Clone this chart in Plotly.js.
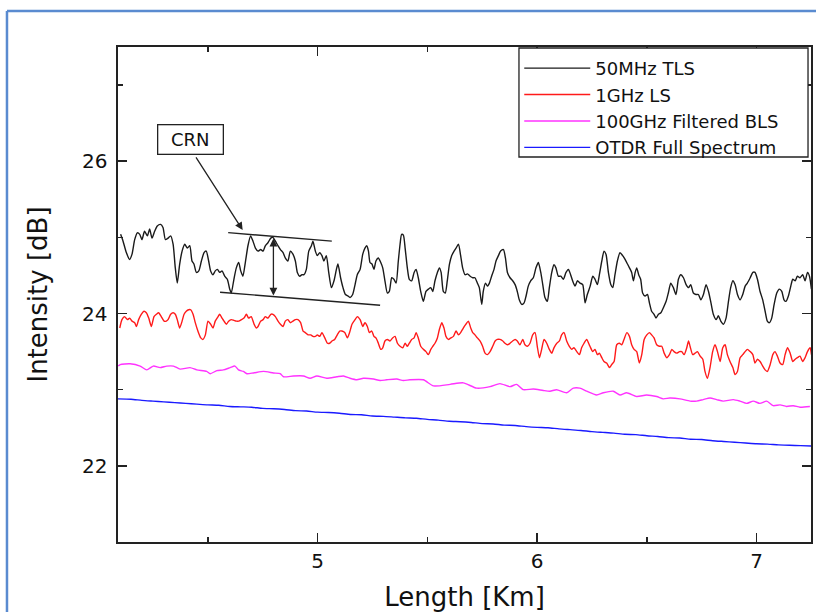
<!DOCTYPE html>
<html>
<head>
<meta charset="utf-8">
<script src="https://cdn.plot.ly/plotly-3.0.1.min.js"></script>
<style>html,body{margin:0;padding:0;background:#fff;}#chart{width:816px;height:612px;}</style>
</head>
<body>
<div id="chart"></div>
<script>
// ---- data ----
const seriesNames = ["50MHz TLS", "1GHz LS", "100GHz Filtered BLS", "OTDR Full Spectrum"];

const blackX = [
4.103,4.114,4.129,4.144,4.155,4.167,4.179,4.190,4.200,4.212,
4.225,4.235,4.246,4.258,4.270,4.285,4.296,4.307,4.319,4.331,
4.342,4.352,4.361,4.372,4.383,4.395,4.407,4.418,4.428,4.437,
4.448,4.459,4.471,4.483,4.493,4.504,4.513,4.524,4.534,4.544,
4.554,4.565,4.577,4.589,4.600,4.607,4.619,4.630,4.641,4.650,
4.660,4.671,4.683,4.695,4.706,4.717,4.729,4.741,4.752,4.762,
4.774,4.787,4.797,4.808,4.820,4.831,4.843,4.853,4.865,4.876,
4.888,4.899,4.908,4.919,4.929,4.938,4.949,4.960,4.972,4.979,
4.990,4.999,5.010,5.020,5.029,5.040,5.051,5.063,5.075,5.086,
5.093,5.105,5.116,5.127,5.139,5.148,5.160,5.171,5.181,5.194,
5.206,5.216,5.224,5.232,5.239,5.248,5.257,5.266,5.277,5.288,
5.297,5.307,5.318,5.327,5.338,5.348,5.358,5.368,5.376,5.383,
5.391,5.399,5.409,5.418,5.429,5.440,5.449,5.459,5.470,5.482,
5.494,5.505,5.516,5.525,5.535,5.546,5.555,5.563,5.573,5.582,
5.591,5.601,5.611,5.622,5.631,5.642,5.652,5.661,5.672,5.683,
5.695,5.707,5.717,5.728,5.737,5.748,5.755,5.765,5.774,5.783,
5.793,5.804,5.813,5.824,5.834,5.847,5.856,5.865,5.877,5.889,
5.900,5.910,5.919,5.930,5.941,5.950,5.960,5.971,5.983,5.995,
6.006,6.017,6.026,6.036,6.047,6.056,6.067,6.077,6.086,6.097,
6.108,6.120,6.132,6.143,6.153,6.162,6.173,6.184,6.196,6.208,
6.219,6.229,6.242,6.254,6.264,6.275,6.284,6.295,6.305,6.314,
6.325,6.336,6.345,6.355,6.366,6.378,6.390,6.401,6.412,6.421,
6.431,6.439,6.447,6.454,6.463,6.472,6.481,6.492,6.503,6.512,
6.522,6.533,6.542,6.553,6.564,6.576,6.588,6.598,6.609,6.621,
6.633,6.644,6.655,6.667,6.679,6.690,6.700,6.712,6.724,6.735,
6.746,6.758,6.770,6.781,6.791,6.803,6.816,6.826,6.837,6.849,
6.861,6.872,6.882,6.892,6.902,6.913,6.925,6.937,6.948,6.958,
6.971,6.983,6.993,7.004,7.016,7.028,7.039,7.049,7.059,7.069,
7.080,7.092,7.104,7.115,7.125,7.134,7.145,7.156,7.165,7.176,
7.186,7.198,7.210,7.221,7.232,7.241,7.250];
const blackY = [
25.04,24.95,24.80,24.71,24.78,24.97,25.06,25.04,24.97,25.08,
25.02,25.11,24.99,25.08,25.15,25.17,25.13,24.97,24.99,25.02,
24.91,24.60,24.40,24.65,24.82,24.91,24.86,24.89,24.69,24.65,
24.54,24.56,24.69,24.80,24.82,24.69,24.56,24.51,24.56,24.58,
24.54,24.56,24.49,24.45,24.32,24.27,24.45,24.60,24.67,24.56,
24.49,24.67,24.89,25.02,24.95,24.86,24.82,24.84,24.82,24.89,
24.93,24.99,25.00,24.95,24.89,24.84,24.80,24.73,24.69,24.82,
24.78,24.69,24.54,24.49,24.51,24.51,24.58,24.82,24.89,24.95,
24.82,24.76,24.80,24.76,24.69,24.76,24.54,24.34,24.43,24.58,
24.65,24.47,24.34,24.25,24.23,24.21,24.25,24.38,24.51,24.58,
24.78,24.86,24.89,24.82,24.67,24.65,24.58,24.69,24.73,24.67,
24.60,24.43,24.27,24.29,24.47,24.45,24.40,24.69,24.91,25.04,
25.03,24.86,24.60,24.45,24.43,24.54,24.58,24.47,24.29,24.16,
24.29,24.32,24.34,24.29,24.43,24.54,24.60,24.54,24.29,24.27,
24.43,24.65,24.76,24.82,24.86,24.91,24.76,24.60,24.51,24.52,
24.49,24.47,24.47,24.40,24.34,24.12,24.29,24.40,24.36,24.40,
24.49,24.58,24.69,24.76,24.82,24.84,24.73,24.54,24.47,24.43,
24.38,24.29,24.18,24.12,24.14,24.23,24.36,24.43,24.47,24.60,
24.67,24.54,24.38,24.21,24.16,24.34,24.54,24.64,24.60,24.49,
24.49,24.45,24.54,24.58,24.51,24.43,24.36,24.43,24.40,24.38,
24.14,24.25,24.36,24.49,24.45,24.38,24.51,24.69,24.82,24.78,
24.54,24.38,24.34,24.51,24.69,24.80,24.76,24.71,24.65,24.60,
24.54,24.43,24.54,24.60,24.51,24.45,24.27,24.23,24.25,24.14,
24.03,23.99,23.94,23.99,24.01,24.08,24.16,24.27,24.40,24.34,
24.25,24.45,24.51,24.47,24.38,24.34,24.38,24.27,24.25,24.25,
24.18,24.25,24.38,24.29,24.16,23.99,23.92,23.97,23.90,23.86,
23.94,24.16,24.34,24.43,24.38,24.25,24.18,24.25,24.36,24.40,
24.47,24.54,24.54,24.45,24.29,24.18,24.03,23.90,23.88,23.94,
24.12,24.27,24.32,24.29,24.18,24.16,24.23,24.36,24.45,24.43,
24.49,24.47,24.51,24.43,24.54,24.49,24.32];

const redX = [
4.099,4.109,4.121,4.134,4.144,4.155,4.167,4.175,4.185,4.197,
4.209,4.220,4.231,4.243,4.255,4.266,4.276,4.288,4.301,4.311,
4.319,4.331,4.342,4.352,4.361,4.372,4.383,4.392,4.402,4.413,
4.422,4.433,4.443,4.455,4.468,4.478,4.489,4.501,4.513,4.524,
4.534,4.547,4.554,4.565,4.574,4.585,4.595,4.607,4.619,4.630,
4.641,4.653,4.665,4.676,4.686,4.698,4.711,4.721,4.729,4.741,
4.752,4.762,4.774,4.787,4.797,4.808,4.820,4.831,4.843,4.853,
4.865,4.876,4.888,4.899,4.911,4.923,4.934,4.944,4.957,4.969,
4.979,4.990,4.999,5.010,5.020,5.033,5.045,5.055,5.066,5.078,
5.090,5.101,5.111,5.124,5.136,5.146,5.157,5.171,5.181,5.194,
5.206,5.216,5.227,5.236,5.247,5.257,5.266,5.277,5.288,5.297,
5.307,5.318,5.330,5.342,5.353,5.364,5.376,5.388,5.399,5.409,
5.418,5.429,5.440,5.449,5.459,5.470,5.482,5.494,5.505,5.516,
5.525,5.535,5.546,5.555,5.566,5.576,5.585,5.596,5.607,5.619,
5.631,5.642,5.652,5.664,5.676,5.687,5.698,5.707,5.717,5.728,
5.740,5.752,5.763,5.774,5.786,5.798,5.809,5.819,5.831,5.844,
5.854,5.865,5.877,5.889,5.900,5.910,5.922,5.935,5.945,5.956,
5.968,5.980,5.991,6.001,6.011,6.021,6.032,6.044,6.056,6.067,
6.077,6.090,6.102,6.112,6.123,6.135,6.147,6.158,6.168,6.181,
6.193,6.203,6.214,6.226,6.241,6.254,6.264,6.275,6.284,6.295,
6.305,6.317,6.330,6.340,6.351,6.363,6.375,6.386,6.396,6.409,
6.421,6.431,6.442,6.454,6.466,6.477,6.488,6.500,6.512,6.522,
6.533,6.545,6.557,6.568,6.579,6.591,6.603,6.614,6.624,6.636,
6.649,6.659,6.670,6.682,6.690,6.697,6.709,6.720,6.731,6.743,
6.755,6.765,6.776,6.788,6.800,6.811,6.822,6.834,6.846,6.857,
6.867,6.879,6.892,6.902,6.913,6.925,6.937,6.948,6.958,6.971,
6.983,6.993,7.004,7.016,7.028,7.039,7.049,7.062,7.074,7.084,
7.095,7.107,7.119,7.130,7.141,7.153,7.165,7.176,7.186,7.198,
7.210,7.221,7.232,7.244,7.250];
const redY = [
23.81,23.92,23.96,23.92,23.94,23.90,23.88,23.83,23.92,23.99,
24.03,24.01,23.94,23.83,23.96,23.99,24.01,23.96,23.90,23.90,
23.92,23.99,24.01,23.99,23.92,23.81,23.90,23.99,24.03,24.05,
24.05,23.99,23.88,23.77,23.68,23.66,23.72,23.90,23.86,23.81,
23.90,23.96,23.99,23.94,23.90,23.86,23.90,23.92,23.91,23.90,
23.90,23.92,23.94,23.99,23.94,23.96,23.86,23.81,23.83,23.90,
23.92,23.96,23.94,23.99,23.99,23.96,23.90,23.86,23.83,23.90,
23.92,23.88,23.90,23.92,23.92,23.88,23.77,23.75,23.72,23.72,
23.70,23.70,23.72,23.70,23.75,23.68,23.61,23.61,23.64,23.66,
23.72,23.77,23.77,23.75,23.68,23.75,23.86,23.92,23.96,23.92,
23.83,23.88,23.83,23.75,23.77,23.70,23.68,23.61,23.53,23.55,
23.64,23.66,23.64,23.68,23.70,23.61,23.57,23.55,23.61,23.57,
23.61,23.66,23.68,23.75,23.68,23.57,23.53,23.50,23.46,23.53,
23.57,23.61,23.68,23.79,23.88,23.81,23.70,23.66,23.68,23.70,
23.77,23.72,23.75,23.81,23.86,23.90,23.81,23.75,23.72,23.68,
23.64,23.57,23.48,23.46,23.50,23.57,23.64,23.66,23.66,23.64,
23.61,23.59,23.61,23.64,23.66,23.64,23.59,23.66,23.59,23.57,
23.61,23.72,23.75,23.57,23.42,23.53,23.66,23.61,23.53,23.48,
23.55,23.61,23.64,23.72,23.75,23.64,23.57,23.53,23.55,23.50,
23.46,23.55,23.61,23.66,23.57,23.50,23.53,23.46,23.48,23.42,
23.37,23.35,23.29,23.33,23.37,23.59,23.61,23.59,23.66,23.75,
23.70,23.59,23.53,23.50,23.35,23.46,23.66,23.72,23.75,23.72,
23.68,23.59,23.57,23.57,23.48,23.42,23.46,23.53,23.50,23.48,
23.50,23.50,23.46,23.55,23.64,23.57,23.46,23.48,23.50,23.44,
23.40,23.24,23.15,23.29,23.50,23.59,23.50,23.37,23.55,23.59,
23.46,23.37,23.29,23.20,23.24,23.42,23.46,23.50,23.53,23.50,
23.46,23.35,23.40,23.37,23.31,23.26,23.24,23.33,23.46,23.50,
23.44,23.35,23.33,23.46,23.55,23.48,23.37,23.40,23.42,23.44,
23.37,23.42,23.50,23.55,23.46];

const magentaX = [
4.092,4.101,4.146,4.192,4.222,4.252,4.283,4.313,4.344,4.374,
4.419,4.450,4.495,4.511,4.541,4.571,4.602,4.624,4.640,4.662,
4.678,4.708,4.754,4.799,4.830,4.845,4.890,4.936,4.966,4.997,
5.042,5.088,5.118,5.148,5.179,5.209,5.255,5.285,5.315,5.361,
5.391,5.421,5.482,5.528,5.604,5.664,5.725,5.786,5.831,5.877,
5.907,5.937,5.983,6.028,6.059,6.089,6.135,6.165,6.195,6.226,
6.271,6.302,6.347,6.378,6.408,6.454,6.499,6.545,6.575,6.605,
6.651,6.697,6.727,6.757,6.788,6.818,6.848,6.894,6.924,6.955,
6.985,7.015,7.046,7.076,7.107,7.137,7.167,7.198,7.243];
const magentaY = [
23.31,23.33,23.34,23.31,23.26,23.31,23.29,23.31,23.31,23.27,
23.29,23.26,23.24,23.21,23.25,23.26,23.29,23.31,23.26,23.24,
23.21,23.22,23.24,23.22,23.21,23.17,23.18,23.18,23.15,23.18,
23.15,23.17,23.18,23.15,23.13,23.15,23.14,23.12,23.13,23.14,
23.12,23.13,23.13,23.05,23.07,23.09,23.02,23.04,23.08,23.04,
23.07,23.00,23.01,22.99,22.98,23.00,22.96,23.02,23.02,22.98,
22.93,22.96,22.98,22.93,22.96,22.91,22.93,22.91,22.88,22.89,
22.88,22.85,22.85,22.87,22.89,22.87,22.85,22.87,22.85,22.82,
22.85,22.82,22.85,22.79,22.80,22.78,22.79,22.77,22.78];

const blueX = [
4.09,4.15,4.20,4.25,4.30,4.35,4.40,4.45,4.50,4.55,
4.60,4.65,4.70,4.75,4.80,4.85,4.90,4.95,5.00,5.05,
5.10,5.15,5.20,5.25,5.30,5.35,5.40,5.45,5.50,5.55,
5.60,5.65,5.70,5.75,5.80,5.85,5.90,5.95,6.00,6.05,
6.10,6.15,6.20,6.25,6.30,6.35,6.40,6.45,6.50,6.55,
6.60,6.65,6.70,6.75,6.80,6.85,6.90,6.95,7.00,7.05,
7.10,7.15,7.20,7.25];
const blueY = [
22.88,22.875,22.86,22.85,22.84,22.83,22.82,22.81,22.80,22.795,
22.78,22.775,22.77,22.755,22.75,22.74,22.725,22.72,22.705,22.70,
22.69,22.675,22.67,22.655,22.65,22.64,22.63,22.625,22.61,22.60,
22.585,22.58,22.57,22.555,22.55,22.535,22.53,22.515,22.505,22.50,
22.485,22.475,22.465,22.45,22.44,22.43,22.415,22.41,22.395,22.385,
22.37,22.365,22.35,22.345,22.33,22.32,22.31,22.30,22.29,22.285,
22.275,22.27,22.265,22.26];

const xTickVals = [5, 6, 7];
const yTickVals = [22, 24, 26];

// annotation geometry (data coordinates)
const crnLabel = {text: "CRN", x: 4.419, y: 26.28};
const crnArrow = {x0: 4.442, y0: 26.07, x1: 4.659, y1: 25.096};
const upperLine = {x0: 4.593, y0: 25.062, x1: 5.065, y1: 24.951};
const lowerLine = {x0: 4.556, y0: 24.280, x1: 5.285, y1: 24.109};
const spanArrow = {x: 4.799, yTop: 25.004, yBottom: 24.237};

// ---- plotting ----
const FONT = "DejaVu Sans, Arial, sans-serif";
const INK = "#222222";
const colors = ["#1a1a1a", "#ff1a1a", "#ff33ff", "#1a1aff"];
const xs = [blackX, redX, magentaX, blueX];
const ys = [blackY, redY, magentaY, blueY];

const traces = seriesNames.map((name, i) => ({
  x: xs[i], y: ys[i], name: name, type: "scatter", mode: "lines",
  legendgroup: "g" + i,
  line: {color: colors[i], width: 1.4, shape: "spline", smoothing: 0.6}
}));

function axisBase() {
  return {
    showline: true, linecolor: INK, linewidth: 1.6, mirror: "ticks",
    ticks: "inside", ticklen: 9, tickwidth: 1.5, tickcolor: INK,
    showgrid: false, zeroline: false,
    tickfont: {family: FONT, size: 20, color: "#111"}
  };
}

const xaxis = Object.assign(axisBase(), {
  range: [4.091, 7.248], tickvals: xTickVals, ticktext: xTickVals.map(String),
  minor: {ticks: "inside", ticklen: 5, tickwidth: 1.5, tickcolor: INK, dtick: 0.5, tick0: 0, showgrid: false},
  title: {text: "Length [Km]", font: {family: FONT, size: 26, color: "#111"}, standoff: 17}
});
const yaxis = Object.assign(axisBase(), {
  range: [21, 27.5], tickvals: yTickVals, ticktext: yTickVals.map(String),
  minor: {ticks: "inside", ticklen: 5, tickwidth: 1.5, tickcolor: INK, dtick: 1, tick0: 0, showgrid: false},
  ticklabelstandoff: 5,
  title: {text: "Intensity [dB]", font: {family: FONT, size: 26, color: "#111"}, standoff: 27}
});

const layout = {
  width: 816, height: 612,
  margin: {l: 118, r: 5, t: 47, b: 70, pad: 0},
  paper_bgcolor: "#ffffff", plot_bgcolor: "#ffffff",
  font: {family: FONT, color: "#111"},
  showlegend: true,
  legend: {
    x: 0.579, y: 0.994, xanchor: "left", yanchor: "top",
    bgcolor: "rgba(0,0,0,0)", borderwidth: 0,
    font: {family: FONT, size: 18, color: "#111"},
    itemwidth: 66, tracegroupgap: 0
  },
  xaxis: xaxis, yaxis: yaxis,
  shapes: [
    // legend frame
    {type: "rect", xref: "paper", yref: "paper", x0: 0.5786, x1: 0.9957, y0: 0.7778, y1: 0.998,
     fillcolor: "#ffffff", line: {color: INK, width: 1.3}, layer: "above"},
    {type: "line", xref: "x", yref: "y", x0: upperLine.x0, y0: upperLine.y0, x1: upperLine.x1, y1: upperLine.y1, line: {color: INK, width: 1.4}},
    {type: "line", xref: "x", yref: "y", x0: lowerLine.x0, y0: lowerLine.y0, x1: lowerLine.x1, y1: lowerLine.y1, line: {color: INK, width: 1.4}},
    // page frame (blue border of the figure)
    {type: "line", xref: "paper", yref: "paper", x0: -0.1602, y0: 1.0727, x1: -0.1602, y1: -0.15, line: {color: "#5a8bd0", width: 2.5}},
    {type: "line", xref: "paper", yref: "paper", x0: -0.1602, y0: 1.0727, x1: 1.01, y1: 1.0727, line: {color: "#5a8bd0", width: 2.5}}
  ],
  annotations: [
    {x: crnLabel.x, y: crnLabel.y, xref: "x", yref: "y", text: crnLabel.text, showarrow: false,
     font: {family: FONT, size: 18, color: "#111"}, bordercolor: INK, borderwidth: 1.3, borderpad: 2,
     bgcolor: "#ffffff", width: 60, height: 24},
    {x: crnArrow.x1, y: crnArrow.y1, ax: crnArrow.x0, ay: crnArrow.y0, xref: "x", yref: "y", axref: "x", ayref: "y",
     text: "", showarrow: true, arrowhead: 2, arrowsize: 1.2, arrowwidth: 1.3, arrowcolor: INK},
    {x: spanArrow.x, y: spanArrow.yBottom, ax: spanArrow.x, ay: spanArrow.yTop, xref: "x", yref: "y", axref: "x", ayref: "y",
     text: "", showarrow: true, arrowside: "end+start", arrowhead: 2, startarrowhead: 2, arrowsize: 1.2, startarrowsize: 1.2,
     arrowwidth: 1.3, arrowcolor: INK}
  ]
};

Plotly.newPlot("chart", traces, layout, {staticPlot: true, displayModeBar: false});
</script>
</body>
</html>
